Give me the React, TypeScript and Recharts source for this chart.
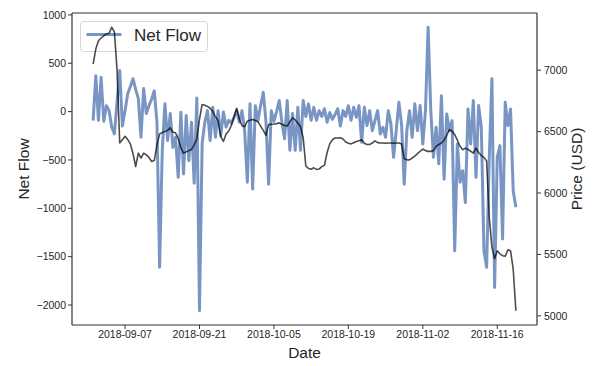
import React from 'react';
import { LineChart, Line, XAxis, YAxis, ReferenceLine } from 'recharts';

const START_DATE = '2018-09-01T00:00:00Z';
const STEP_HOURS = 12;

const netFlow = [
  -93, 370, -90, 355, -100, 60, 10, -160, -230, 100,
  425, -150, 10, 185, 260, 340, 230, 135, -265, 240,
  -20, 60, 130, 215, -110, -1610, -400, 80, -300, -20,
  -370, -265, -680, -7, -645, -40, -507, -110, -740, 140,
  -2060, -330, -110, 10, -300, 45, -265, 10, -250, -5,
  -160, -90, -120, -60, 10, -110, 10, -200, -730, 80,
  -800, 60, -90, 60, 200, -100, -750, 10, -100, 0,
  115, -110, -280, 115, -400, -20, -400, 45, -400, 115,
  -50, 80, -90, 45, -90, 10, -50, 30, -110, -10,
  -80, -30, 30, -150, 10, -50, 60, -90, 45, -59,
  62, -318, 45, -145, 10, -197, -93, 10, -231, -162,
  -266, 10, -128, -473, -197, 96, -128, -750, -197, 10,
  -266, 80, -197, 62, -335, 10, 873, 10, -473, -162,
  -540, 165, -700, -24, -197, -93, -1440, -335, -730, -611,
  -940, 27, -335, 115, -680, 62, -162, -1440, -1610, -473,
  340, -1818, -473, -352, -1318, 96, -145, 27, -818, -990,
];

const price = [
  7049, 7172, 7240, 7262, 7280, 7295, 7300, 7350, 7310, 7000,
  6407, 6434, 6462, 6435, 6400, 6320, 6216, 6325, 6285, 6325,
  6310, 6290, 6257, 6265, 6390, 6480, 6492, 6500, 6510, 6530,
  6495, 6490, 6445, 6370, 6325, 6335, 6345, 6355, 6390, 6440,
  6600, 6721, 6715, 6705, 6690, 6665, 6620, 6590, 6460, 6420,
  6480, 6505, 6550, 6620, 6690, 6600, 6550, 6540, 6585, 6592,
  6598, 6590, 6580, 6545, 6510, 6470, 6557, 6560, 6562, 6565,
  6571, 6560, 6550, 6545, 6580, 6612, 6595, 6570, 6540, 6450,
  6220, 6200, 6194, 6205, 6192, 6195, 6215, 6225, 6330, 6400,
  6434, 6448, 6448, 6450, 6440, 6415, 6405, 6400, 6410, 6420,
  6425, 6434, 6405, 6395, 6395, 6407, 6425, 6410, 6407, 6407,
  6405, 6407, 6407, 6405, 6407, 6407, 6400, 6280, 6270, 6270,
  6285, 6300, 6320, 6340, 6358, 6345, 6339, 6339, 6345, 6380,
  6395, 6407, 6430, 6470, 6516, 6505, 6475, 6430, 6380, 6352,
  6365, 6355, 6340, 6325, 6365, 6330, 6305, 6290, 6260, 5800,
  5560, 5465, 5530, 5505, 5490, 5485, 5538, 5530, 5380, 5041,
];

const xTickLabels = ['2018-09-07', '2018-09-21', '2018-10-05', '2018-10-19', '2018-11-02', '2018-11-16'];
const leftTicks = [-2000, -1500, -1000, -500, 0, 500, 1000];
const rightTicks = [5000, 5500, 6000, 6500, 7000];

const t0 = Date.parse(START_DATE);
const data = netFlow.map((v, i) => ({
  t: t0 + i * STEP_HOURS * 3600000,
  flow: v,
  price: price[i],
}));
const xTicks = xTickLabels.map((s) => Date.parse(s + 'T00:00:00Z'));

const withMargin = (vals: number[]): [number, number] => {
  const lo = Math.min(...vals);
  const hi = Math.max(...vals);
  const pad = (hi - lo) * 0.05;
  return [lo - pad, hi + pad];
};
const xDomain = withMargin(data.map((d) => d.t));
const leftDomain = withMargin(netFlow);
const rightDomain = withMargin(price);

const FONT = 'Liberation Sans, Arial, Helvetica, sans-serif';
const TEXT = '#262626';
const SPINE = '#333333';

const fmtDate = (v: number) => new Date(v).toISOString().slice(0, 10);

const YTitle = (props: any) => {
  const { viewBox, value, dxOff } = props;
  const x = viewBox.x + dxOff;
  const y = viewBox.y + viewBox.height / 2;
  return (
    <text x={x} y={y} transform={`rotate(-90 ${x} ${y})`} textAnchor="middle" fill={TEXT} fontSize={15.5} fontFamily={FONT}>
      {value}
    </text>
  );
};

const XTitle = (props: any) => {
  const { viewBox, value } = props;
  const x = viewBox.x + viewBox.width / 2;
  const y = viewBox.y + 33;
  return (
    <text x={x} y={y} textAnchor="middle" fill={TEXT} fontSize={15.5} fontFamily={FONT}>
      {value}
    </text>
  );
};

const tickStyle = { fill: TEXT, fontSize: 10.5, fontFamily: FONT };

export default function App() {
  return (
    <div style={{ position: 'absolute', left: 0, top: 0, width: 600, height: 366, background: '#fff' }}>
      <div style={{ position: 'absolute', left: 80, top: 21 }}>
        <svg width={130} height={32}>
          <rect x={0.5} y={0.5} width={127} height={30} rx={3} ry={3} fill="#fff" fillOpacity={0.8} stroke="#d5d5d5" strokeWidth={1} />
          <line x1={6.5} x2={41.5} y1={13.5} y2={13.5} stroke="#4C72B0" strokeOpacity={0.75} strokeWidth={3} />
          <text x={54} y={19.8} fontSize={17} fontFamily={FONT} fill={TEXT}>Net Flow</text>
        </svg>
      </div>
      <LineChart width={600} height={366} data={data} margin={{ top: 13, right: 0, bottom: 0, left: 0 }}>
        <XAxis
          dataKey="t"
          type="number"
          domain={xDomain}
          allowDataOverflow
          ticks={xTicks}
          tickFormatter={fmtDate}
          height={41}
          tick={tickStyle}
          tickSize={4}
          tickMargin={2}
          tickLine={{ stroke: SPINE }}
          axisLine={{ stroke: SPINE, strokeWidth: 1.2 }}
          label={<XTitle value="Date" />}
        />
        <YAxis
          yAxisId="left"
          type="number"
          domain={leftDomain}
          allowDataOverflow
          ticks={leftTicks}
          tickFormatter={(v: number) => (v < 0 ? '\u2212' + Math.abs(v) : String(v))}
          width={72}
          tick={tickStyle}
          tickSize={4}
          tickMargin={2}
          tickLine={{ stroke: SPINE }}
          axisLine={{ stroke: SPINE, strokeWidth: 1.2 }}
          label={<YTitle value="Net Flow" dxOff={29} />}
        />
        <YAxis
          yAxisId="right"
          orientation="right"
          type="number"
          domain={rightDomain}
          allowDataOverflow
          ticks={rightTicks}
          width={63}
          tick={tickStyle}
          tickSize={4}
          tickMargin={3}
          tickLine={{ stroke: SPINE }}
          axisLine={{ stroke: SPINE, strokeWidth: 1.2 }}
          label={<YTitle value="Price (USD)" dxOff={45} />}
        />
        <ReferenceLine yAxisId="left" y={leftDomain[1]} stroke={SPINE} strokeWidth={1.2} />
        <Line
          yAxisId="left"
          dataKey="flow"
          type="linear"
          stroke="#4C72B0"
          strokeOpacity={0.75}
          strokeWidth={3}
          strokeLinejoin="round"
          dot={false}
          activeDot={false}
          isAnimationActive={false}
        />
        <Line
          yAxisId="right"
          dataKey="price"
          type="linear"
          stroke="#000"
          strokeOpacity={0.7}
          strokeWidth={1.6}
          strokeLinejoin="round"
          dot={false}
          activeDot={false}
          isAnimationActive={false}
        />
      </LineChart>
    </div>
  );
}
